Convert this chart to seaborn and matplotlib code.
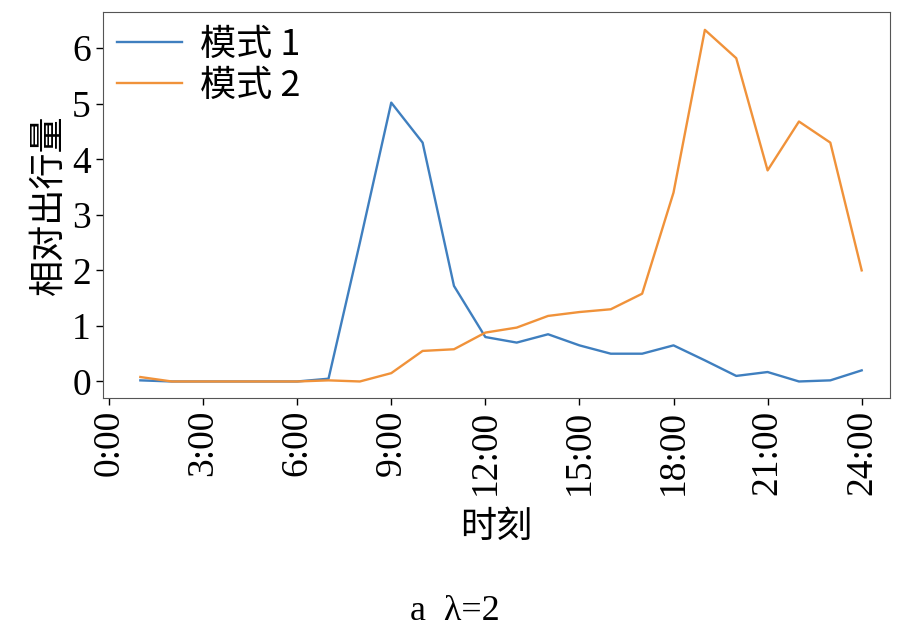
import matplotlib
matplotlib.use("Agg")
import matplotlib.pyplot as plt
import seaborn as sns
import pandas as pd

hours = list(range(1, 25))
mode1 = [0.02,0,0,0,0,0,0.05,2.5,5.02,4.3,1.72,0.8,0.7,0.85,0.65,0.5,0.5,0.65,0.38,0.1,0.17,0,0.02,0.2]
mode2 = [0.08,0,0,0,0,0,0.02,0,0.15,0.55,0.58,0.88,0.97,1.18,1.25,1.3,1.58,3.4,6.33,5.82,3.8,4.68,4.3,2.0]
tick_pos = [0,3,6,9,12,15,18,21,24]
tick_labels = ["0:00","3:00","6:00","9:00","12:00","15:00","18:00","21:00","24:00"]

df = pd.DataFrame({"h": hours*2, "v": mode1+mode2, "s": ["模式 1"]*24 + ["模式 2"]*24})
cjk = "Noto Sans CJK SC"
serif = "Liberation Serif"
fig = plt.figure(figsize=(9.09, 6.36), dpi=100)
ax = fig.add_axes([0.113, 0.374, 0.866, 0.607])
sns.lineplot(data=df, x="h", y="v", hue="s", palette=["#3f7fbf", "#f0923a"], ax=ax, lw=1.7)
ax.set_xlim(-0.2, 24.9)
ax.set_ylim(-0.3, 6.65)
ax.set_xticks(tick_pos)
ax.set_xticklabels(tick_labels, rotation=90, fontfamily=serif, fontsize=27)
ax.set_yticks(range(7))
ax.set_yticklabels([str(i) for i in range(7)], fontfamily=serif, fontsize=27)
ax.set_xlabel("时刻", fontfamily=cjk, fontsize=26, labelpad=10)
ax.set_ylabel("相对出行量", fontfamily=cjk, fontsize=26)
ax.tick_params(length=5, width=1)
for s in ax.spines.values():
    s.set_color("#555555")
leg = ax.legend(loc="upper left", frameon=False, prop={"family": cjk, "size": 26},
                handlelength=1.8, handletextpad=0.5, borderaxespad=0.0, labelspacing=0.15)
fig.text(0.5, 0.025, "a  λ=2", ha="center", fontfamily=serif, fontsize=26)
fig.savefig("out.png", dpi=100)
